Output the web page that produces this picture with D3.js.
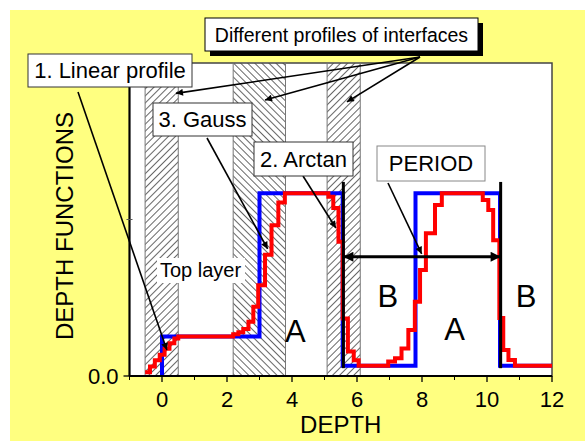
<!DOCTYPE html>
<html>
<head>
<meta charset="utf-8">
<script src="https://cdn.jsdelivr.net/npm/d3@7"></script>
<style>
  body { margin: 0; background: #fff; }
  text { font-family: Arial, "Liberation Sans", sans-serif; }
</style>
</head>
<body>
<svg id="chart" width="585" height="441"></svg>
<script>
//datos de las curvas
const depthTicks = [0, 2, 4, 6, 8, 10, 12];
const depthMinor = [-1, 1, 3, 5, 7, 9, 11];
const funcTicks = [0.0];
const funcMinor = [0.5];

// perfil ideal (escalon) - azul
const blueX = [0, 0, 3.0, 5.56, 7.8, 10.4, 12];
const blueY = [0, 0.126, 0.584, 0.033, 0.584, 0.033, 0.033];

// perfil discretizado - rojo
const redX = [-0.52, -0.37, -0.22, -0.07, 0.08, 0.23, 0.38, 0.5,
  2.19, 2.35, 2.5, 2.66, 2.81, 2.96, 3.17, 3.37, 3.58, 3.78,
  5.12, 5.27, 5.43, 5.56, 5.72, 5.9, 6.05,
  6.96, 7.17, 7.37, 7.58, 7.78, 7.94, 8.12, 8.4, 8.61,
  9.87, 10.04, 10.19, 10.38, 10.5, 10.66, 10.86, 12];
const redY = [0.012, 0.03, 0.05, 0.068, 0.087, 0.105, 0.12, 0.126,
  0.133, 0.14, 0.15, 0.173, 0.221, 0.29, 0.387, 0.482, 0.554, 0.584,
  0.573, 0.537, 0.429, 0.184, 0.078, 0.05, 0.033,
  0.046, 0.057, 0.088, 0.147, 0.237, 0.339, 0.456, 0.546, 0.584,
  0.562, 0.53, 0.434, 0.185, 0.083, 0.051, 0.033, 0.033];

// interfaces (zonas rayadas)
const interfaceStart = [-0.52, 2.19, 5.08];
const interfaceEnd = [0.5, 3.8, 6.1];
const interfaceHatch = ["fwd", "back", "fwd"];

// capas
const layerNames = ["A", "B", "A", "B"];
const layerX = [4.1, 6.95, 9.0, 11.2];
const layerY = [0.11, 0.22, 0.115, 0.22];

// periodo
const periodStart = 5.58;
const periodEnd = 10.42;
const periodLevel = 0.381;
const periodMarkTop = 0.62;
const periodMarkBottom = 0.025;

const svg = d3.select("#chart");
const pLeft = 129.5, pRight = 552, pTop = 63, pBottom = 376;

const x = d3.scaleLinear().domain([-1, 12]).range([pLeft, pRight]);
const y = d3.scaleLinear().domain([0, 1]).range([pBottom, pTop]);

//fondo amarillo
svg.append("rect").attr("x", 10).attr("y", 10).attr("width", 575).attr("height", 431)
  .attr("fill", "#ffff80");

const defs = svg.append("defs");
const hatch = (id, angle) => {
  const p = defs.append("pattern").attr("id", id)
    .attr("patternUnits", "userSpaceOnUse")
    .attr("width", 5).attr("height", 5)
    .attr("patternTransform", "rotate(" + angle + ")");
  p.append("line").attr("x1", 0).attr("y1", 0).attr("x2", 0).attr("y2", 5)
    .attr("stroke", "#000").attr("stroke-width", 1.2);
};
hatch("fwd", 45);
hatch("back", -45);

defs.append("marker").attr("id", "head")
  .attr("viewBox", "0 0 10 10").attr("refX", 10).attr("refY", 5)
  .attr("markerWidth", 9).attr("markerHeight", 7)
  .attr("markerUnits", "userSpaceOnUse")
  .attr("orient", "auto-start-reverse")
  .append("path").attr("d", "M0,0 L10,5 L0,10 Z").attr("fill", "#000");

defs.append("marker").attr("id", "headBig")
  .attr("viewBox", "0 0 10 10").attr("refX", 10).attr("refY", 5)
  .attr("markerWidth", 16).attr("markerHeight", 10)
  .attr("markerUnits", "userSpaceOnUse")
  .attr("orient", "auto-start-reverse")
  .append("path").attr("d", "M0,0 L10,5 L0,10 Z").attr("fill", "#000");

//area del grafico
svg.append("rect").attr("x", pLeft).attr("y", pTop)
  .attr("width", pRight - pLeft).attr("height", pBottom - pTop)
  .attr("fill", "#fff").attr("stroke", "#444").attr("stroke-width", 1.5);

svg.selectAll("rect.iface")
  .data(interfaceStart)
  .enter()
  .append("rect")
  .attr("class", "iface")
  .attr("x", (d) => x(d))
  .attr("y", pTop)
  .attr("width", (d, i) => x(interfaceEnd[i]) - x(d))
  .attr("height", pBottom - pTop)
  .attr("fill", (d, i) => "url(#" + interfaceHatch[i] + ")")
  .attr("stroke", "#777")
  .attr("stroke-width", 1);

// etiqueta Top layer
svg.append("rect").attr("x", 157).attr("y", 258).attr("width", 88).attr("height", 25)
  .attr("fill", "#fff");
svg.append("text").attr("x", 160).attr("y", 277).attr("font-size", 20).text("Top layer");

// curvas
const stepLine = d3.line().x((d) => x(d[0])).y((d) => y(d[1])).curve(d3.curveStepAfter);
svg.append("path")
  .attr("d", stepLine(blueX.map((v, i) => [v, blueY[i]])))
  .attr("fill", "none").attr("stroke", "#0000ff").attr("stroke-width", 4);
svg.append("path")
  .attr("d", stepLine(redX.map((v, i) => [v, redY[i]])))
  .attr("fill", "none").attr("stroke", "#ff0000").attr("stroke-width", 4);

// marcas del periodo
svg.selectAll("line.pmark")
  .data([periodStart, periodEnd])
  .enter()
  .append("line")
  .attr("class", "pmark")
  .attr("x1", (d) => x(d)).attr("x2", (d) => x(d))
  .attr("y1", y(periodMarkTop)).attr("y2", y(periodMarkBottom))
  .attr("stroke", "#000").attr("stroke-width", 3);

svg.append("line")
  .attr("x1", x(periodStart)).attr("x2", x(periodEnd))
  .attr("y1", y(periodLevel)).attr("y2", y(periodLevel))
  .attr("stroke", "#000").attr("stroke-width", 3)
  .attr("marker-start", "url(#headBig)").attr("marker-end", "url(#headBig)");

// letras de capas
svg.selectAll("text.layer")
  .data(layerNames)
  .enter()
  .append("text")
  .attr("class", "layer")
  .attr("x", (d, i) => x(layerX[i]))
  .attr("y", (d, i) => y(layerY[i]))
  .attr("text-anchor", "middle")
  .attr("font-size", 31)
  .text((d) => d);

// ejes
const xAxis = svg.append("g").attr("transform", "translate(0," + pBottom + ")");
xAxis.append("line").attr("x1", pLeft).attr("x2", pRight).attr("stroke", "#000").attr("stroke-width", 2);
xAxis.selectAll("line.maj").data(depthTicks).enter().append("line").attr("class", "maj")
  .attr("x1", (d) => x(d)).attr("x2", (d) => x(d)).attr("y1", 0).attr("y2", 6)
  .attr("stroke", "#000").attr("stroke-width", 1.3);
xAxis.selectAll("line.min").data(depthMinor).enter().append("line").attr("class", "min")
  .attr("x1", (d) => x(d)).attr("x2", (d) => x(d)).attr("y1", 0).attr("y2", 4)
  .attr("stroke", "#000").attr("stroke-width", 1);
xAxis.selectAll("text").data(depthTicks).enter().append("text")
  .attr("x", (d) => x(d)).attr("y", 31).attr("text-anchor", "middle")
  .attr("font-size", 22).text((d) => d);

const yAxis = svg.append("g").attr("transform", "translate(" + pLeft + ",0)");
yAxis.append("line").attr("y1", pTop).attr("y2", pBottom).attr("stroke", "#000").attr("stroke-width", 2);
yAxis.selectAll("line.maj").data(funcTicks).enter().append("line").attr("class", "maj")
  .attr("y1", (d) => y(d)).attr("y2", (d) => y(d)).attr("x1", 0).attr("x2", -6)
  .attr("stroke", "#000").attr("stroke-width", 1.3);
yAxis.selectAll("line.min").data(funcMinor).enter().append("line").attr("class", "min")
  .attr("y1", (d) => y(d)).attr("y2", (d) => y(d)).attr("x1", -3).attr("x2", 3)
  .attr("stroke", "#555").attr("stroke-width", 1);
yAxis.selectAll("text").data(funcTicks).enter().append("text")
  .attr("x", -11).attr("y", (d) => y(d) + 8).attr("text-anchor", "end")
  .attr("font-size", 22).text((d) => d3.format(".1f")(d));

svg.append("text").attr("x", (pLeft + pRight) / 2).attr("y", 433)
  .attr("text-anchor", "middle").attr("font-size", 24).text("DEPTH");
svg.append("text").attr("transform", "translate(73,226) rotate(-90)")
  .attr("text-anchor", "middle").attr("font-size", 24).text("DEPTH FUNCTIONS");

// anotaciones
const arrow = (x1, y1, tx, ty) => {
  svg.append("line").attr("x1", x1).attr("y1", y1).attr("x2", x(tx)).attr("y2", y(ty))
    .attr("stroke", "#000").attr("stroke-width", 1.6).attr("marker-end", "url(#head)");
};
const box = (bx, by, w, h, label, fs, border, shadow) => {
  if (shadow) {
    svg.append("rect").attr("x", bx + 5).attr("y", by + 5).attr("width", w).attr("height", h).attr("fill", "#000");
  }
  svg.append("rect").attr("x", bx).attr("y", by).attr("width", w).attr("height", h)
    .attr("fill", "#fff").attr("stroke", border).attr("stroke-width", 1);
  svg.append("text").attr("x", bx + w / 2).attr("y", by + h / 2 + fs * 0.36)
    .attr("text-anchor", "middle").attr("font-size", fs).text(label);
};

arrow(420, 57, 0.43, 0.903);
arrow(420, 57, 3.17, 0.882);
arrow(420, 57, 5.69, 0.876);
arrow(78, 92, 0.15, 0.083);
arrow(207, 138, 3.25, 0.406);
arrow(303, 176, 5.35, 0.473);
arrow(388, 183, 7.99, 0.39);

box(205, 18, 273, 33, "Different profiles of interfaces", 19.5, "#000", true);
box(28, 54, 164, 33, "1. Linear profile", 22, "#333", false);
box(153, 103, 99, 33, "3. Gauss", 22, "#333", false);
box(254, 142, 99, 34, "2. Arctan", 22, "#333", false);
box(377, 146, 108, 35, "PERIOD", 22, "#888", false);
</script>
</body>
</html>
